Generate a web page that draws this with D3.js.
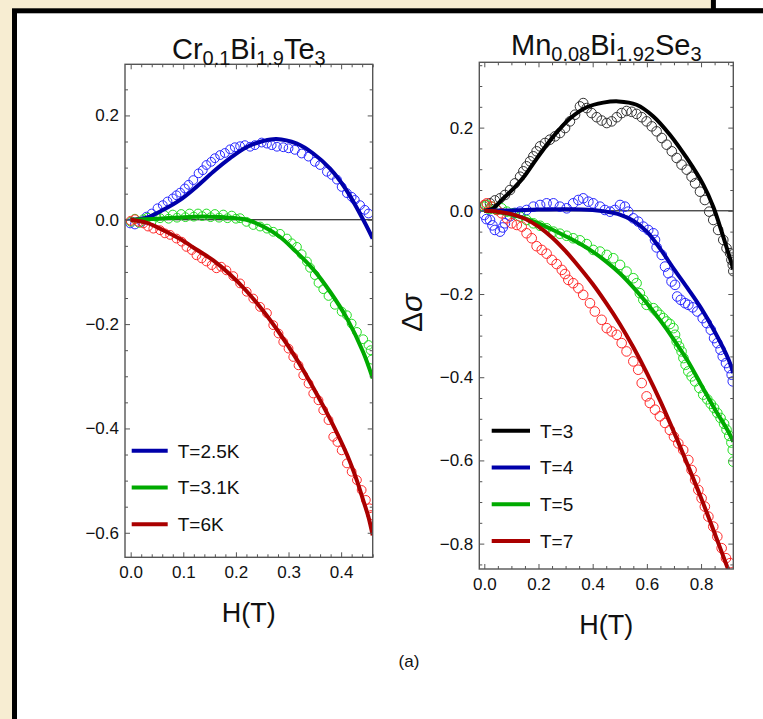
<!DOCTYPE html>
<html><head><meta charset="utf-8">
<script src="https://cdn.jsdelivr.net/npm/d3@7"></script>
<style>
body{margin:0;background:#f7edd2}
svg{display:block}
text{font-family:"Liberation Sans",Arial,Helvetica,sans-serif;fill:#111}
</style>
</head><body>
<svg id="c" width="763" height="719"></svg>
<script>
// ---------------- DATA ----------------
// Left panel: Cr0.1Bi1.9Te3  (H in T, delta sigma)
const crLegend = ["T=2.5K", "T=3.1K", "T=6K"];
const crXTicks = [0.0, 0.1, 0.2, 0.3, 0.4];
const crYTicks = [-0.6, -0.4, -0.2, 0.0, 0.2];

const crFit25 = [[0,0],[0.03,0.004],[0.062,0.019],[0.094,0.038],[0.125,0.063],[0.157,0.092],[0.189,0.118],[0.22,0.139],[0.252,0.151],[0.277,0.155],[0.316,0.146],[0.347,0.127],[0.379,0.098],[0.41,0.057],[0.442,0.0],[0.46,-0.036]];
const crData25 = [[-0.001,-0.007],[0.008,-0.009],[0.021,-0.004],[0.030,0.006],[0.040,0.012],[0.051,0.022],[0.061,0.028],[0.070,0.035],[0.080,0.041],[0.087,0.047],[0.094,0.052],[0.103,0.060],[0.110,0.067],[0.119,0.076],[0.129,0.089],[0.137,0.095],[0.144,0.105],[0.153,0.111],[0.160,0.118],[0.170,0.124],[0.179,0.128],[0.189,0.135],[0.198,0.139],[0.208,0.141],[0.217,0.143],[0.227,0.140],[0.236,0.143],[0.249,0.148],[0.259,0.146],[0.268,0.143],[0.278,0.140],[0.290,0.139],[0.300,0.137],[0.312,0.134],[0.325,0.127],[0.338,0.121],[0.350,0.111],[0.360,0.105],[0.373,0.092],[0.382,0.086],[0.392,0.077],[0.401,0.063],[0.411,0.051],[0.420,0.044],[0.426,0.038],[0.436,0.028],[0.445,0.019],[0.452,0.012]];

const crFit31 = [[0,0],[0.05,0.002],[0.1,0.005],[0.15,0.006],[0.19,0.004],[0.22,0.0],[0.252,-0.013],[0.284,-0.033],[0.31,-0.057],[0.347,-0.095],[0.379,-0.138],[0.411,-0.189],[0.442,-0.254],[0.46,-0.304]];
const crData31 = [[0.000,-0.004],[0.008,0.002],[0.016,-0.006],[0.024,0.001],[0.032,0.004],[0.040,-0.003],[0.048,0.006],[0.056,0.003],[0.064,0.009],[0.072,0.002],[0.080,0.010],[0.088,0.004],[0.096,0.011],[0.104,0.005],[0.112,0.012],[0.120,0.006],[0.128,0.012],[0.136,0.007],[0.144,0.012],[0.152,0.005],[0.160,0.011],[0.168,0.004],[0.176,0.010],[0.184,0.003],[0.192,0.008],[0.200,0.002],[0.208,0.003],[0.220,-0.004],[0.233,-0.010],[0.246,-0.013],[0.259,-0.017],[0.271,-0.023],[0.284,-0.027],[0.297,-0.036],[0.306,-0.045],[0.316,-0.052],[0.325,-0.066],[0.335,-0.080],[0.341,-0.092],[0.350,-0.106],[0.357,-0.121],[0.366,-0.133],[0.376,-0.146],[0.388,-0.163],[0.401,-0.176],[0.411,-0.183],[0.420,-0.199],[0.430,-0.215],[0.442,-0.229],[0.452,-0.240],[0.456,-0.250],[0.458,-0.268]];

const crFit6 = [[0,0],[0.031,-0.006],[0.062,-0.02],[0.094,-0.037],[0.125,-0.057],[0.157,-0.078],[0.189,-0.105],[0.2205,-0.137],[0.252,-0.175],[0.284,-0.219],[0.316,-0.268],[0.347,-0.322],[0.379,-0.382],[0.411,-0.450],[0.430,-0.500],[0.442,-0.538],[0.452,-0.570],[0.46,-0.605]];
const crData6 = [[0.000,-0.002],[0.008,0.001],[0.015,-0.004],[0.024,-0.007],[0.033,-0.013],[0.043,-0.017],[0.056,-0.020],[0.065,-0.026],[0.075,-0.029],[0.087,-0.036],[0.097,-0.042],[0.106,-0.052],[0.116,-0.058],[0.125,-0.068],[0.135,-0.074],[0.144,-0.080],[0.154,-0.087],[0.163,-0.093],[0.172,-0.090],[0.182,-0.097],[0.195,-0.108],[0.208,-0.122],[0.2205,-0.138],[0.233,-0.151],[0.246,-0.167],[0.259,-0.179],[0.271,-0.202],[0.281,-0.218],[0.290,-0.234],[0.300,-0.247],[0.309,-0.263],[0.319,-0.279],[0.328,-0.298],[0.338,-0.314],[0.347,-0.333],[0.357,-0.346],[0.366,-0.365],[0.376,-0.384],[0.385,-0.416],[0.393,-0.426],[0.401,-0.442],[0.411,-0.467],[0.420,-0.483],[0.430,-0.499],[0.439,-0.518],[0.447,-0.537],[0.454,-0.553],[0.457,-0.566]];

// Right panel: Mn0.08Bi1.92Se3
const mnLegend = ["T=3", "T=4", "T=5", "T=7"];
const mnXTicks = [0.0, 0.2, 0.4, 0.6, 0.8];
const mnYTicks = [-0.8, -0.6, -0.4, -0.2, 0.0, 0.2];

const mnFit3 = [[0,0],[0.03,0.005],[0.07,0.030],[0.11,0.055],[0.15,0.085],[0.193,0.125],[0.255,0.179],[0.316,0.222],[0.378,0.249],[0.439,0.260],[0.495,0.263],[0.562,0.255],[0.624,0.227],[0.685,0.183],[0.747,0.127],[0.808,0.063],[0.845,0.010],[0.870,-0.038],[0.919,-0.140]];
const mnData3 = [[0.003,0.014],[0.021,0.018],[0.039,0.025],[0.058,0.030],[0.076,0.038],[0.095,0.050],[0.113,0.066],[0.132,0.082],[0.144,0.095],[0.156,0.107],[0.169,0.119],[0.181,0.131],[0.193,0.143],[0.206,0.155],[0.224,0.163],[0.242,0.171],[0.261,0.179],[0.279,0.187],[0.298,0.199],[0.316,0.215],[0.335,0.231],[0.353,0.251],[0.365,0.259],[0.378,0.247],[0.396,0.235],[0.415,0.225],[0.433,0.217],[0.452,0.211],[0.470,0.215],[0.489,0.225],[0.507,0.235],[0.525,0.240],[0.544,0.238],[0.562,0.233],[0.581,0.225],[0.599,0.215],[0.618,0.203],[0.636,0.191],[0.655,0.175],[0.673,0.159],[0.692,0.143],[0.710,0.127],[0.728,0.111],[0.747,0.099],[0.765,0.082],[0.778,0.066],[0.796,0.046],[0.814,0.026],[0.830,-0.002],[0.845,-0.022],[0.863,-0.046],[0.882,-0.070],[0.894,-0.090],[0.907,-0.102],[0.912,-0.118],[0.917,-0.130],[0.919,-0.145]];

const mnFit4 = [[0,0],[0.1,0.001],[0.2,0.003],[0.3,0.004],[0.4,0.002],[0.45,-0.002],[0.5,-0.009],[0.55,-0.024],[0.6,-0.050],[0.65,-0.092],[0.7,-0.140],[0.75,-0.186],[0.8,-0.234],[0.85,-0.290],[0.9,-0.355],[0.919,-0.390]];
const mnData4 = [[0.000,-0.010],[0.008,-0.020],[0.021,-0.022],[0.030,-0.035],[0.039,-0.046],[0.058,-0.050],[0.068,-0.040],[0.076,-0.030],[0.095,-0.013],[0.113,-0.005],[0.132,-0.002],[0.156,0.002],[0.181,0.010],[0.206,0.014],[0.230,0.018],[0.255,0.018],[0.279,0.010],[0.304,0.006],[0.328,0.018],[0.347,0.026],[0.365,0.030],[0.384,0.022],[0.402,0.018],[0.427,0.010],[0.445,0.002],[0.464,-0.002],[0.482,0.002],[0.501,0.014],[0.519,0.010],[0.531,-0.002],[0.550,-0.018],[0.568,-0.026],[0.587,-0.038],[0.605,-0.046],[0.624,-0.054],[0.630,-0.070],[0.636,-0.088],[0.655,-0.106],[0.667,-0.134],[0.679,-0.150],[0.691,-0.170],[0.704,-0.178],[0.712,-0.206],[0.725,-0.214],[0.741,-0.222],[0.753,-0.226],[0.769,-0.232],[0.786,-0.242],[0.806,-0.258],[0.821,-0.270],[0.836,-0.286],[0.848,-0.306],[0.860,-0.318],[0.872,-0.334],[0.880,-0.350],[0.892,-0.366],[0.904,-0.378],[0.913,-0.394],[0.917,-0.410]];

const mnFit5 = [[0,0],[0.05,-0.003],[0.1,-0.009],[0.15,-0.018],[0.2,-0.030],[0.25,-0.045],[0.3,-0.061],[0.35,-0.078],[0.4,-0.098],[0.45,-0.122],[0.5,-0.150],[0.55,-0.184],[0.6,-0.222],[0.65,-0.264],[0.7,-0.310],[0.75,-0.360],[0.8,-0.418],[0.85,-0.476],[0.9,-0.530],[0.919,-0.555]];
const mnData5 = [[0.000,0.010],[0.009,0.014],[0.018,0.004],[0.027,0.010],[0.046,0.002],[0.064,0.006],[0.083,-0.002],[0.107,-0.006],[0.132,-0.014],[0.156,-0.022],[0.181,-0.030],[0.206,-0.036],[0.230,-0.042],[0.255,-0.050],[0.279,-0.055],[0.304,-0.060],[0.328,-0.066],[0.353,-0.071],[0.378,-0.080],[0.402,-0.094],[0.427,-0.098],[0.452,-0.106],[0.476,-0.114],[0.501,-0.130],[0.525,-0.146],[0.550,-0.162],[0.562,-0.174],[0.574,-0.198],[0.587,-0.214],[0.599,-0.226],[0.624,-0.234],[0.636,-0.242],[0.648,-0.250],[0.661,-0.258],[0.673,-0.266],[0.685,-0.272],[0.698,-0.282],[0.704,-0.298],[0.710,-0.314],[0.719,-0.326],[0.728,-0.338],[0.735,-0.354],[0.743,-0.370],[0.753,-0.386],[0.765,-0.398],[0.778,-0.410],[0.794,-0.426],[0.808,-0.442],[0.823,-0.453],[0.836,-0.464],[0.848,-0.474],[0.860,-0.486],[0.872,-0.498],[0.885,-0.512],[0.894,-0.526],[0.904,-0.541],[0.912,-0.557],[0.917,-0.575],[0.919,-0.603]];

const mnFit7 = [[0,0],[0.05,-0.002],[0.1,-0.008],[0.15,-0.019],[0.2,-0.038],[0.25,-0.064],[0.3,-0.097],[0.35,-0.135],[0.4,-0.176],[0.45,-0.222],[0.5,-0.272],[0.55,-0.328],[0.6,-0.390],[0.65,-0.458],[0.7,-0.532],[0.75,-0.610],[0.8,-0.690],[0.85,-0.775],[0.9,-0.862],[0.919,-0.895]];
const mnData7 = [[0.000,0.014],[0.009,0.018],[0.027,0.010],[0.046,0.002],[0.064,-0.006],[0.083,-0.018],[0.101,-0.030],[0.120,-0.034],[0.138,-0.038],[0.156,-0.054],[0.175,-0.066],[0.193,-0.085],[0.212,-0.094],[0.230,-0.103],[0.249,-0.118],[0.267,-0.128],[0.286,-0.142],[0.298,-0.152],[0.310,-0.166],[0.328,-0.174],[0.347,-0.186],[0.365,-0.202],[0.390,-0.222],[0.408,-0.242],[0.433,-0.262],[0.452,-0.282],[0.470,-0.290],[0.489,-0.298],[0.507,-0.318],[0.525,-0.338],[0.550,-0.362],[0.568,-0.382],[0.581,-0.414],[0.599,-0.446],[0.611,-0.462],[0.630,-0.478],[0.648,-0.494],[0.667,-0.510],[0.685,-0.527],[0.700,-0.543],[0.716,-0.559],[0.734,-0.575],[0.753,-0.599],[0.765,-0.623],[0.778,-0.647],[0.790,-0.671],[0.802,-0.691],[0.814,-0.711],[0.827,-0.735],[0.845,-0.759],[0.860,-0.783],[0.876,-0.811],[0.892,-0.835],[0.907,-0.847]];

// ---------------- DRAW ----------------
const svg = d3.select("#c");
const fmt = v => (v < 0 ? "\u2212" : "") + Math.abs(v).toFixed(1);

// parchment background and page panels
svg.append("rect").attr("x",0).attr("y",0).attr("width",763).attr("height",719).attr("fill","#f7edd2");
svg.append("rect").attr("x",713.4).attr("y",-30).attr("width",120).attr("height",41).attr("fill","#fff").attr("stroke","#000").attr("stroke-width",5);
svg.append("rect").attr("x",14.5).attr("y",10.8).attr("width",820).attr("height",820).attr("fill","#fff").attr("stroke","#000").attr("stroke-width",5);

let clipId = 0;
function panel(cfg) {
  const x = d3.scaleLinear().domain(cfg.xd).range([cfg.L, cfg.R]);
  const y = d3.scaleLinear().domain(cfg.yd).range([cfg.B, cfg.T]);
  const g = svg.append("g");
  const id = "clip" + (clipId++);
  g.append("clipPath").attr("id", id).append("rect")
    .attr("x", cfg.L).attr("y", cfg.T).attr("width", cfg.R - cfg.L).attr("height", cfg.B - cfg.T);

  // zero line
  g.append("line").attr("x1", cfg.L).attr("x2", cfg.R).attr("y1", y(0)).attr("y2", y(0))
    .attr("stroke", "#000").attr("stroke-width", 1);

  const plot = g.append("g").attr("clip-path", `url(#${id})`);
  cfg.series.forEach(s => {
    plot.append("g").selectAll("circle").data(s.data).join("circle")
      .attr("cx", d => x(d[0])).attr("cy", d => y(d[1])).attr("r", cfg.r)
      .attr("fill", "none").attr("stroke", s.pc).attr("stroke-width", 1);
  });
  const line = d3.line().x(d => x(d[0])).y(d => y(d[1])).curve(d3.curveCatmullRom.alpha(0.5));
  cfg.series.forEach(s => {
    plot.append("path").datum(s.fit).attr("d", line)
      .attr("fill", "none").attr("stroke", s.lc).attr("stroke-width", 4).attr("stroke-linecap", "butt");
  });

  // ticks (inward on all four sides)
  const xMinor = d3.range(Math.ceil(cfg.xd[0] / cfg.xm - 1e-9), Math.floor(cfg.xd[1] / cfg.xm + 1e-9) + 1).map(i => +(i * cfg.xm).toFixed(4));
  const yMinor = d3.range(Math.ceil(cfg.yd[0] / cfg.ym - 1e-9), Math.floor(cfg.yd[1] / cfg.ym + 1e-9) + 1).map(i => +(i * cfg.ym).toFixed(4));
  const isMajor = (v, arr) => arr.some(a => Math.abs(a - v) < 1e-6);
  const axStyle = a => { a.select(".domain").remove(); a.selectAll(".tick line").attr("stroke", "#555"); };

  g.append("g").attr("transform", `translate(0,${cfg.B})`)
    .call(d3.axisBottom(x).tickValues(xMinor.filter(v => !isMajor(v, cfg.xt))).tickSize(-3).tickFormat("")).call(axStyle);
  g.append("g").attr("transform", `translate(0,${cfg.T})`)
    .call(d3.axisTop(x).tickValues(xMinor.filter(v => !isMajor(v, cfg.xt))).tickSize(-3).tickFormat("")).call(axStyle);
  g.append("g").attr("transform", `translate(0,${cfg.T})`)
    .call(d3.axisTop(x).tickValues(cfg.xt).tickSize(-5).tickFormat("")).call(axStyle);
  const xb = g.append("g").attr("transform", `translate(0,${cfg.B})`)
    .call(d3.axisBottom(x).tickValues(cfg.xt).tickSize(-5).tickPadding(9).tickFormat(fmt)).call(axStyle);
  xb.selectAll("text").attr("font-size", 17).attr("fill", "#1a1a1a").attr("font-family", '"Liberation Sans",Arial,sans-serif');

  g.append("g").attr("transform", `translate(${cfg.L},0)`)
    .call(d3.axisLeft(y).tickValues(yMinor.filter(v => !isMajor(v, cfg.yt))).tickSize(-3).tickFormat("")).call(axStyle);
  g.append("g").attr("transform", `translate(${cfg.R},0)`)
    .call(d3.axisRight(y).tickValues(yMinor.filter(v => !isMajor(v, cfg.yt))).tickSize(-3).tickFormat("")).call(axStyle);
  g.append("g").attr("transform", `translate(${cfg.R},0)`)
    .call(d3.axisRight(y).tickValues(cfg.yt).tickSize(-5).tickFormat("")).call(axStyle);
  const yl = g.append("g").attr("transform", `translate(${cfg.L},0)`)
    .call(d3.axisLeft(y).tickValues(cfg.yt).tickSize(-5).tickPadding(6).tickFormat(fmt)).call(axStyle);
  yl.selectAll("text").attr("font-size", 17).attr("fill", "#1a1a1a").attr("font-family", '"Liberation Sans",Arial,sans-serif');

  // frame
  g.append("rect").attr("x", cfg.L).attr("y", cfg.T).attr("width", cfg.R - cfg.L).attr("height", cfg.B - cfg.T)
    .attr("fill", "none").attr("stroke", "#555").attr("stroke-width", 1.4);

  // title with subscripts
  const t = g.append("text").attr("x", (cfg.L + cfg.R) / 2).attr("y", cfg.titleY)
    .attr("text-anchor", "middle").attr("font-size", 29);
  cfg.title.forEach(([txt, sub], i) => {
    t.append("tspan").text(txt).attr("font-size", sub ? 20 : 29).attr("dy", sub ? 6 : (i > 0 ? -6 : 0));
  });

  // x label
  g.append("text").attr("x", (cfg.L + cfg.R) / 2).attr("y", cfg.xlabY).attr("text-anchor", "middle")
    .attr("font-size", 27).text("H(T)");

  // legend
  cfg.series.forEach((s, i) => {
    const ly = cfg.legY + i * cfg.legDy;
    g.append("line").attr("x1", cfg.legX).attr("x2", cfg.legX + cfg.legW).attr("y1", ly).attr("y2", ly)
      .attr("stroke", s.lc).attr("stroke-width", 4);
    g.append("text").attr("x", cfg.legX + cfg.legW + 10).attr("y", ly + 6.8).attr("font-size", 19)
      .attr("fill", "#1a1a1a").text(cfg.legend[i]);
  });
  return {x, y};
}

panel({
  L: 125, R: 372.7, T: 64.3, B: 557.3,
  xd: [-0.0108, 0.46], yd: [-0.647, 0.298],
  xm: 0.02, ym: 0.05, xt: crXTicks, yt: crYTicks, r: 4.4,
  title: [["Cr",0],["0.1",1],["Bi",0],["1.9",1],["Te",0],["3",1]], titleY: 59.3,
  xlabY: 621.5,
  legX: 131.7, legW: 36, legY: 450.7, legDy: 36.8, legend: crLegend,
  series: [
    {data: crData25, fit: crFit25, pc: "#2828ff", lc: "#0000aa"},
    {data: crData31, fit: crFit31, pc: "#22dd22", lc: "#00aa00"},
    {data: crData6,  fit: crFit6,  pc: "#ff2a2a", lc: "#aa0000"}
  ]
});

panel({
  L: 479.3, R: 733.3, T: 62.3, B: 569,
  xd: [-0.0185, 0.919], yd: [-0.861, 0.357],
  xm: 0.05, ym: 0.05, xt: mnXTicks, yt: mnYTicks, r: 4.8,
  title: [["Mn",0],["0.08",1],["Bi",0],["1.92",1],["Se",0],["3",1]], titleY: 55,
  xlabY: 633.5,
  legX: 491.7, legW: 38.3, legY: 430.7, legDy: 36.8, legend: mnLegend,
  series: [
    {data: mnData3, fit: mnFit3, pc: "#333333", lc: "#000000"},
    {data: mnData4, fit: mnFit4, pc: "#2828ff", lc: "#0000aa"},
    {data: mnData5, fit: mnFit5, pc: "#22dd22", lc: "#00aa00"},
    {data: mnData7, fit: mnFit7, pc: "#ff2a2a", lc: "#aa0000"}
  ]
});

// y label of right panel
const yLab = svg.append("text").attr("transform", "translate(422,313) rotate(-90)")
  .attr("text-anchor", "middle").attr("font-size", 30);
yLab.append("tspan").text("\u0394");
yLab.append("tspan").attr("font-style", "italic").text("\u03c3");

// caption
svg.append("text").attr("x", 409).attr("y", 667).attr("text-anchor", "middle")
  .attr("font-family", '"Liberation Serif","DejaVu Serif",serif').attr("font-size", 17).text("(a)");
</script>
</body></html>
